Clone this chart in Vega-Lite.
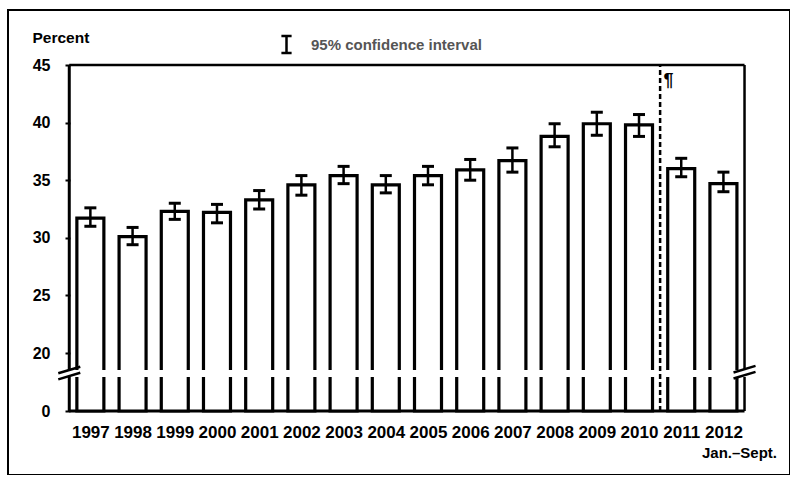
{
  "$schema": "https://vega.github.io/schema/vega-lite/v6.json",
  "autosize": {"type": "none"},
  "padding": {"left": 8, "top": 10, "right": 0, "bottom": 0},
  "width": 782,
  "height": 465,
  "background": "white",
  "config": {
    "font": "Liberation Sans",
    "view": {"stroke": "black", "strokeWidth": 2},
    "axis": {"grid": false, "domain": false, "labelColor": "black", "titleColor": "black"}
  },
  "data": {
    "values": [
      {"year": 1997, "value": 31.7, "lo": 31.0, "hi": 32.6},
      {"year": 1998, "value": 30.1, "lo": 29.4, "hi": 30.9},
      {"year": 1999, "value": 32.3, "lo": 31.6, "hi": 33.0},
      {"year": 2000, "value": 32.2, "lo": 31.3, "hi": 32.9},
      {"year": 2001, "value": 33.3, "lo": 32.5, "hi": 34.1},
      {"year": 2002, "value": 34.6, "lo": 33.7, "hi": 35.4},
      {"year": 2003, "value": 35.4, "lo": 34.7, "hi": 36.2},
      {"year": 2004, "value": 34.6, "lo": 33.9, "hi": 35.4},
      {"year": 2005, "value": 35.4, "lo": 34.6, "hi": 36.2},
      {"year": 2006, "value": 35.9, "lo": 35.0, "hi": 36.8},
      {"year": 2007, "value": 36.7, "lo": 35.7, "hi": 37.8},
      {"year": 2008, "value": 38.8, "lo": 37.9, "hi": 39.9},
      {"year": 2009, "value": 39.9, "lo": 38.9, "hi": 40.9},
      {"year": 2010, "value": 39.8, "lo": 38.8, "hi": 40.7},
      {"year": 2011, "value": 36.0, "lo": 35.3, "hi": 36.9},
      {"year": 2012, "value": 34.7, "lo": 34.0, "hi": 35.7}
    ]
  },
  "layer": [
    {
      "data": {"values": [{}]},
      "mark": {"type": "rule", "stroke": "black", "strokeWidth": 2.5},
      "encoding": {"x": {"datum": 1996.5}, "x2": {"datum": 2012.5}, "y": {"datum": 45}}
    },
    {
      "data": {"values": [{}]},
      "mark": {"type": "rule", "stroke": "black", "strokeWidth": 3},
      "encoding": {"x": {"datum": 1996.5}, "x2": {"datum": 2012.5}, "y": {"datum": 0}}
    },
    {
      "data": {"values": [{}]},
      "mark": {"type": "rule", "stroke": "black", "strokeWidth": 3},
      "encoding": {"x": {"datum": 1996.5}, "y": {"datum": 0}, "y2": {"datum": 45}}
    },
    {
      "data": {"values": [{}]},
      "mark": {"type": "rule", "stroke": "black", "strokeWidth": 2.5},
      "encoding": {"x": {"datum": 2012.5}, "y": {"datum": 0}, "y2": {"datum": 45}}
    },
    {
      "mark": {"type": "bar", "orient": "vertical", "width": 27, "fill": "white", "stroke": "black", "strokeWidth": 3.2},
      "encoding": {
        "x": {
          "field": "year", "type": "quantitative",
          "scale": {"domain": [1995.1667, 2013.459], "nice": false, "zero": false},
          "axis": {
            "orient": "bottom", "offset": -64, "title": null,
            "values": [1997, 1998, 1999, 2000, 2001, 2002, 2003, 2004, 2005, 2006, 2007, 2008, 2009, 2010, 2011, 2012],
            "format": "d", "ticks": false, "tickSize": 0,
            "labelFontSize": 17, "labelFontWeight": "bold", "labelPadding": 13,
            "labelFlush": false, "labelOverlap": false
          }
        },
        "y": {
          "field": "value", "type": "quantitative", "stack": null,
          "scale": {"domain": [-20, 0, 20, 45, 50], "range": [465, 401, 343, 55, 0], "nice": false, "zero": false},
          "axis": {
            "orient": "left", "offset": -57,
            "values": [0, 20, 25, 30, 35, 40, 45],
            "ticks": true, "tickSize": -5, "tickWidth": 2, "tickColor": "black",
            "labelFontSize": 16, "labelFontWeight": "bold", "labelPadding": 20,
            "title": "Percent", "titleAngle": 0, "titleX": -33, "titleY": 27,
            "titleAlign": "left", "titleBaseline": "middle",
            "titleFontSize": 15.5, "titleFontWeight": "bold"
          }
        }
      }
    },
    {
      "data": {"values": [{}]},
      "mark": {"type": "rect", "fill": "white", "stroke": null},
      "encoding": {"x": {"datum": 1996.3}, "x2": {"datum": 2012.7}, "y": {"datum": 11.7}, "y2": {"datum": 14.1}}
    },
    {
      "mark": {"type": "rule", "strokeWidth": 2.5},
      "encoding": {
        "x": {"field": "year", "type": "quantitative"},
        "y": {"field": "lo", "type": "quantitative"},
        "y2": {"field": "hi"},
        "color": {
          "datum": "95% confidence interval",
          "scale": {"range": ["black"]},
          "legend": {
            "title": null, "orient": "none", "legendX": 268.5, "legendY": 24.5, "padding": 0,
            "symbolType": "M-0.6,-1H0.6M0,-1V1M-0.6,1H0.6",
            "symbolSize": 289, "symbolStrokeWidth": 2.5, "symbolStrokeColor": "#555", "symbolFillColor": "transparent",
            "labelFontSize": 15, "labelFontWeight": "bold", "labelColor": "#555", "labelOffset": 14.5, "labelLimit": 400
          }
        }
      }
    },
    {
      "mark": {"type": "tick", "orient": "horizontal", "size": 12, "thickness": 3, "color": "black", "opacity": 1},
      "encoding": {
        "x": {"field": "year", "type": "quantitative"},
        "y": {"field": "lo", "type": "quantitative"}
      }
    },
    {
      "mark": {"type": "tick", "orient": "horizontal", "size": 12, "thickness": 3, "color": "black", "opacity": 1},
      "encoding": {
        "x": {"field": "year", "type": "quantitative"},
        "y": {"field": "hi", "type": "quantitative"}
      }
    },
    {
      "data": {"values": [{}]},
      "mark": {"type": "rule", "stroke": "black", "strokeWidth": 2.5, "strokeDash": [5, 3]},
      "encoding": {"x": {"datum": 2010.5}, "y": {"datum": 0}, "y2": {"datum": 45}}
    },
    {
      "data": {"values": [{}]},
      "mark": {"type": "point", "shape": "M-1,0L1,-0.6M-1,0.55L1,-0.05", "size": 484, "filled": false, "stroke": "black", "strokeWidth": 2.5, "opacity": 1},
      "encoding": {"x": {"datum": 1996.5}, "y": {"datum": 13.0}}
    },
    {
      "data": {"values": [{}]},
      "mark": {"type": "point", "shape": "M-1,0L1,-0.6M-1,0.55L1,-0.05", "size": 484, "filled": false, "stroke": "black", "strokeWidth": 2.5, "opacity": 1},
      "encoding": {"x": {"datum": 2012.5}, "y": {"datum": 13.3}}
    },
    {
      "data": {"values": [{"note": "¶"}]},
      "mark": {"type": "text", "align": "left", "baseline": "middle", "fontSize": 18, "fontWeight": "bold", "color": "black"},
      "encoding": {"x": {"datum": 2010.58}, "y": {"datum": 43.6}, "text": {"field": "note"}}
    },
    {
      "data": {"values": [{"note": "Jan.–Sept."}]},
      "mark": {"type": "text", "align": "right", "baseline": "middle", "fontSize": 15, "fontWeight": "bold", "color": "black"},
      "encoding": {"x": {"datum": 2013.27}, "y": {"datum": -13.1}, "text": {"field": "note"}}
    }
  ]
}
